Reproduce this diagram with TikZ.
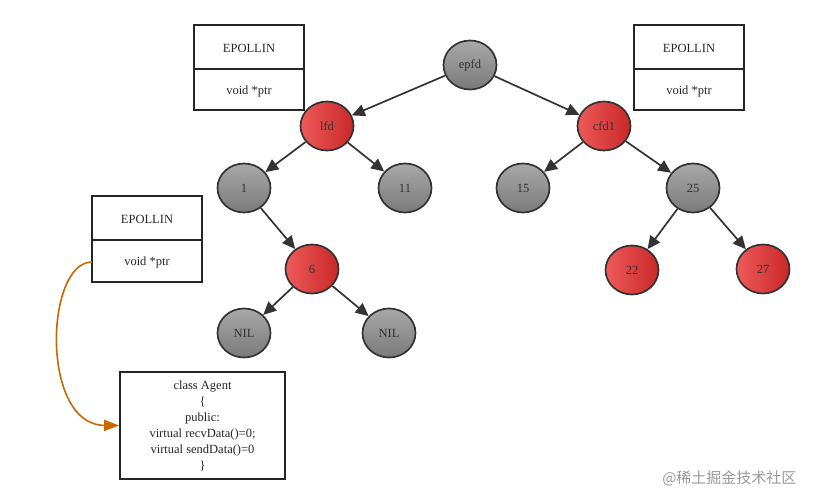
\documentclass[tikz,border=0pt]{standalone}
\usepackage{fontspec}
\setmainfont{Liberation Serif}
\newfontfamily\cjkf{Noto Sans CJK SC}
\usetikzlibrary{arrows.meta,shapes.geometric}
\definecolor{rd1}{HTML}{EE5A5A}
\definecolor{rd2}{HTML}{C82828}
\definecolor{gr1}{HTML}{A8A8A8}
\definecolor{gr2}{HTML}{7A7A7A}
\begin{document}
\begin{tikzpicture}[x=1pt,y=-1pt,
  n/.style={ellipse,draw=black!80,line width=1.7pt,minimum width=53pt,minimum height=49pt,inner sep=0pt,font=\fontsize{12.5}{14}\selectfont,text=black!80},
  g/.style={n,shading=axis,left color=gr1,right color=gr2,shading angle=0},
  r/.style={n,shading=axis,left color=rd1,right color=rd2},
  e/.style={-{Triangle[length=13pt,width=12pt]},line width=1.7pt,draw=black!80},
  bx/.style={draw=black!85,line width=1.7pt},
  t/.style={font=\fontsize{12.5}{14}\selectfont,text=black!85}]
\useasboundingbox (0,0) rectangle (815,504);
\node[g] (epfd) at (470,65) {epfd};
\node[r] (lfd) at (327,126) {lfd};
\node[r] (cfd) at (604,126) {cfd1};
\node[g] (n1) at (244,188) {1};
\node[g] (n11) at (405,188) {11};
\node[g] (n15) at (523,188) {15};
\node[g] (n25) at (693,188) {25};
\node[r] (n6) at (312,269) {6};
\node[r] (n22) at (632,270) {22};
\node[r] (n27) at (763,269) {27};
\node[g] (nil1) at (244,333) {NIL};
\node[g] (nil2) at (389,333) {NIL};
\draw[e] (epfd)--(lfd); \draw[e] (epfd)--(cfd);
\draw[e] (lfd)--(n1); \draw[e] (lfd)--(n11);
\draw[e] (cfd)--(n15); \draw[e] (cfd)--(n25);
\draw[e] (n1)--(n6); \draw[e] (n25)--(n22); \draw[e] (n25)--(n27);
\draw[e] (n6)--(nil1); \draw[e] (n6)--(nil2);
% boxes
\draw[bx] (194,25) rectangle (304,110); \draw[bx] (194,69)--(304,69);
\node[t] (b1a) at (249,48) {EPOLLIN}; \node[t] (b1b) at (249,91) {void *ptr};
\draw[bx] (634,25) rectangle (744,110); \draw[bx] (634,69)--(744,69);
\node[t] (b2a) at (689,48) {EPOLLIN}; \node[t] (b2b) at (689,91) {void *ptr};
\draw[bx] (92,196) rectangle (202,282); \draw[bx] (92,240)--(202,240);
\node[t] (b3a) at (147,219) {EPOLLIN}; \node[t] (b3b) at (147,262) {void *ptr};
\coordinate (p3) at (92,262);
\node[bx,t,minimum width=165pt,minimum height=107pt,align=center,inner sep=0pt,font=\fontsize{12.5}{16}\selectfont] (agent) at (202.5,425.5)
 {class Agent\\\{\\public:\\virtual recvData()=0;\\virtual sendData()=0\\\}};
\draw[line width=1.6pt,draw=orange!80!black,-{Triangle[length=15pt,width=11pt]}]
 (p3) .. controls (45,262) and (40,425) .. (agent.west);
\node[font=\cjkf\fontsize{15}{17}\selectfont,text=gray!80,anchor=east] (wm2) at (800,478) {@稀土掘金技术社区};
\end{tikzpicture}
\end{document}
